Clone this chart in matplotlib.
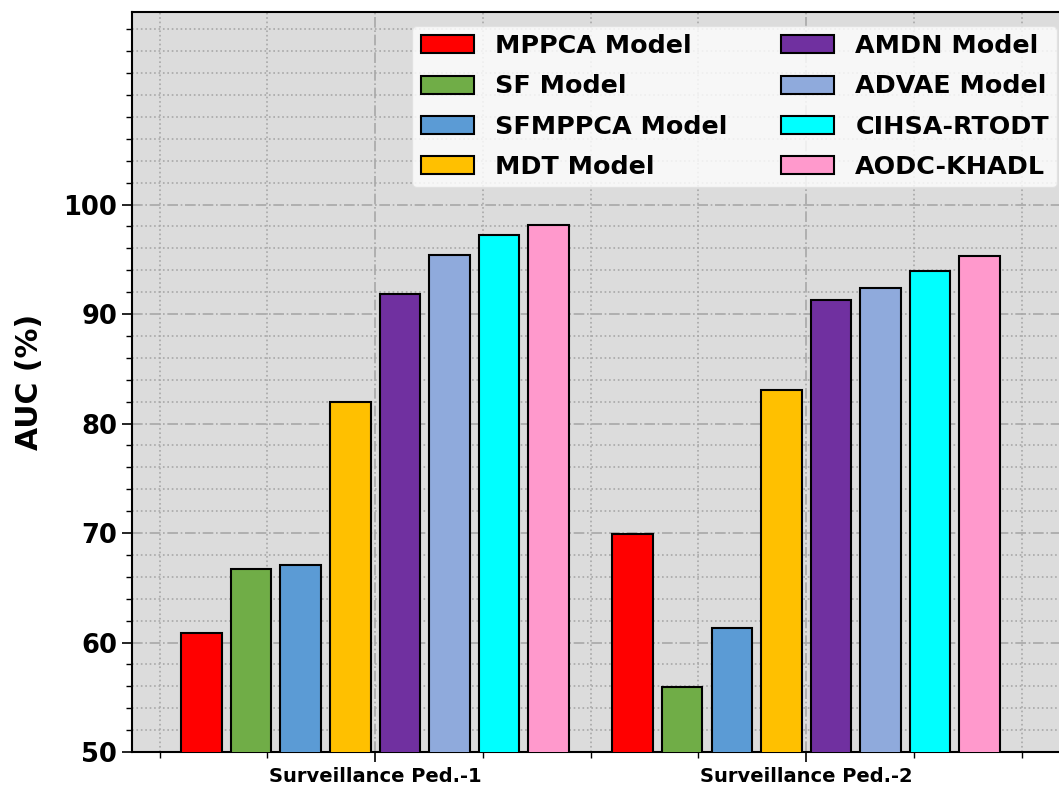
import numpy as np
import matplotlib
matplotlib.use('Agg')
import matplotlib.pyplot as plt
from matplotlib.ticker import AutoMinorLocator, MultipleLocator

# Data
datasets = ['Surveillance Ped.-1', 'Surveillance Ped.-2']
models = ['MPPCA Model', 'SF Model', 'SFMPPCA Model', 'MDT Model',
          'AMDN Model', 'ADVAE Model', 'CIHSA-RTODT', 'AODC-KHADL']
mppca = [60.9, 69.9]
sf = [66.7, 55.9]
sfmppca = [67.1, 61.3]
mdt = [82.0, 83.1]
amdn = [91.8, 91.3]
advae = [95.4, 92.4]
cihsa = [97.2, 93.9]
aodc = [98.1, 95.3]
bar_colors = ['#ff0000', '#70ad47', '#5b9bd5', '#ffc000',
              '#7030a0', '#8faadc', '#00ffff', '#ff99cc']

series = [mppca, sf, sfmppca, mdt, amdn, advae, cihsa, aodc]

fig = plt.figure(figsize=(10.59, 7.9), dpi=100)
# axes run a little past the right edge (reference is cropped there)
ax = fig.add_axes([0.1246, 0.048, 0.887, 0.937])
ax.set_facecolor('#dcdcdc')

x = np.arange(len(datasets))
step = 0.115
width = 0.094
for i, (vals, name) in enumerate(zip(series, models)):
    offs = (i - 3.5) * step
    ax.bar(x + offs, vals, width, color=bar_colors[i], edgecolor='black',
           linewidth=1.5, label=name, zorder=3)

ax.set_xlim(-0.564, 1.615)
ax.set_ylim(50, 117.6)
ax.set_xticks(x)
ax.set_xticklabels(datasets, fontweight='bold', fontsize=14)
ax.set_yticks([50, 60, 70, 80, 90, 100])
ax.yaxis.set_minor_locator(MultipleLocator(2))
ax.xaxis.set_minor_locator(AutoMinorLocator(4))
for lab in ax.get_yticklabels():
    lab.set_fontweight('bold')
    lab.set_fontsize(18.5)
ax.tick_params(axis='both', which='major', length=7, width=1.2)
ax.tick_params(axis='both', which='minor', length=4, width=1)
ax.set_ylabel('AUC (%)', fontweight='bold', fontsize=21.5, labelpad=14)

ax.grid(which='major', linestyle='-.', color='#a8a8a8', linewidth=1.2, zorder=0)
ax.grid(which='minor', linestyle=':', color='#a8a8a8', linewidth=1.2, zorder=0)
ax.set_axisbelow(True)
for sp in ax.spines.values():
    sp.set_linewidth(1.5)

ax.legend(loc='upper right', ncol=2, prop={'weight': 'bold', 'size': 18.3},
          framealpha=0.8, facecolor='white', edgecolor='#e0e0e0',
          handlelength=2.1, handleheight=0.72, handletextpad=0.83,
          columnspacing=2.1, labelspacing=0.64, borderpad=0.33,
          borderaxespad=0.55)

fig.savefig('out.png', dpi=100)
